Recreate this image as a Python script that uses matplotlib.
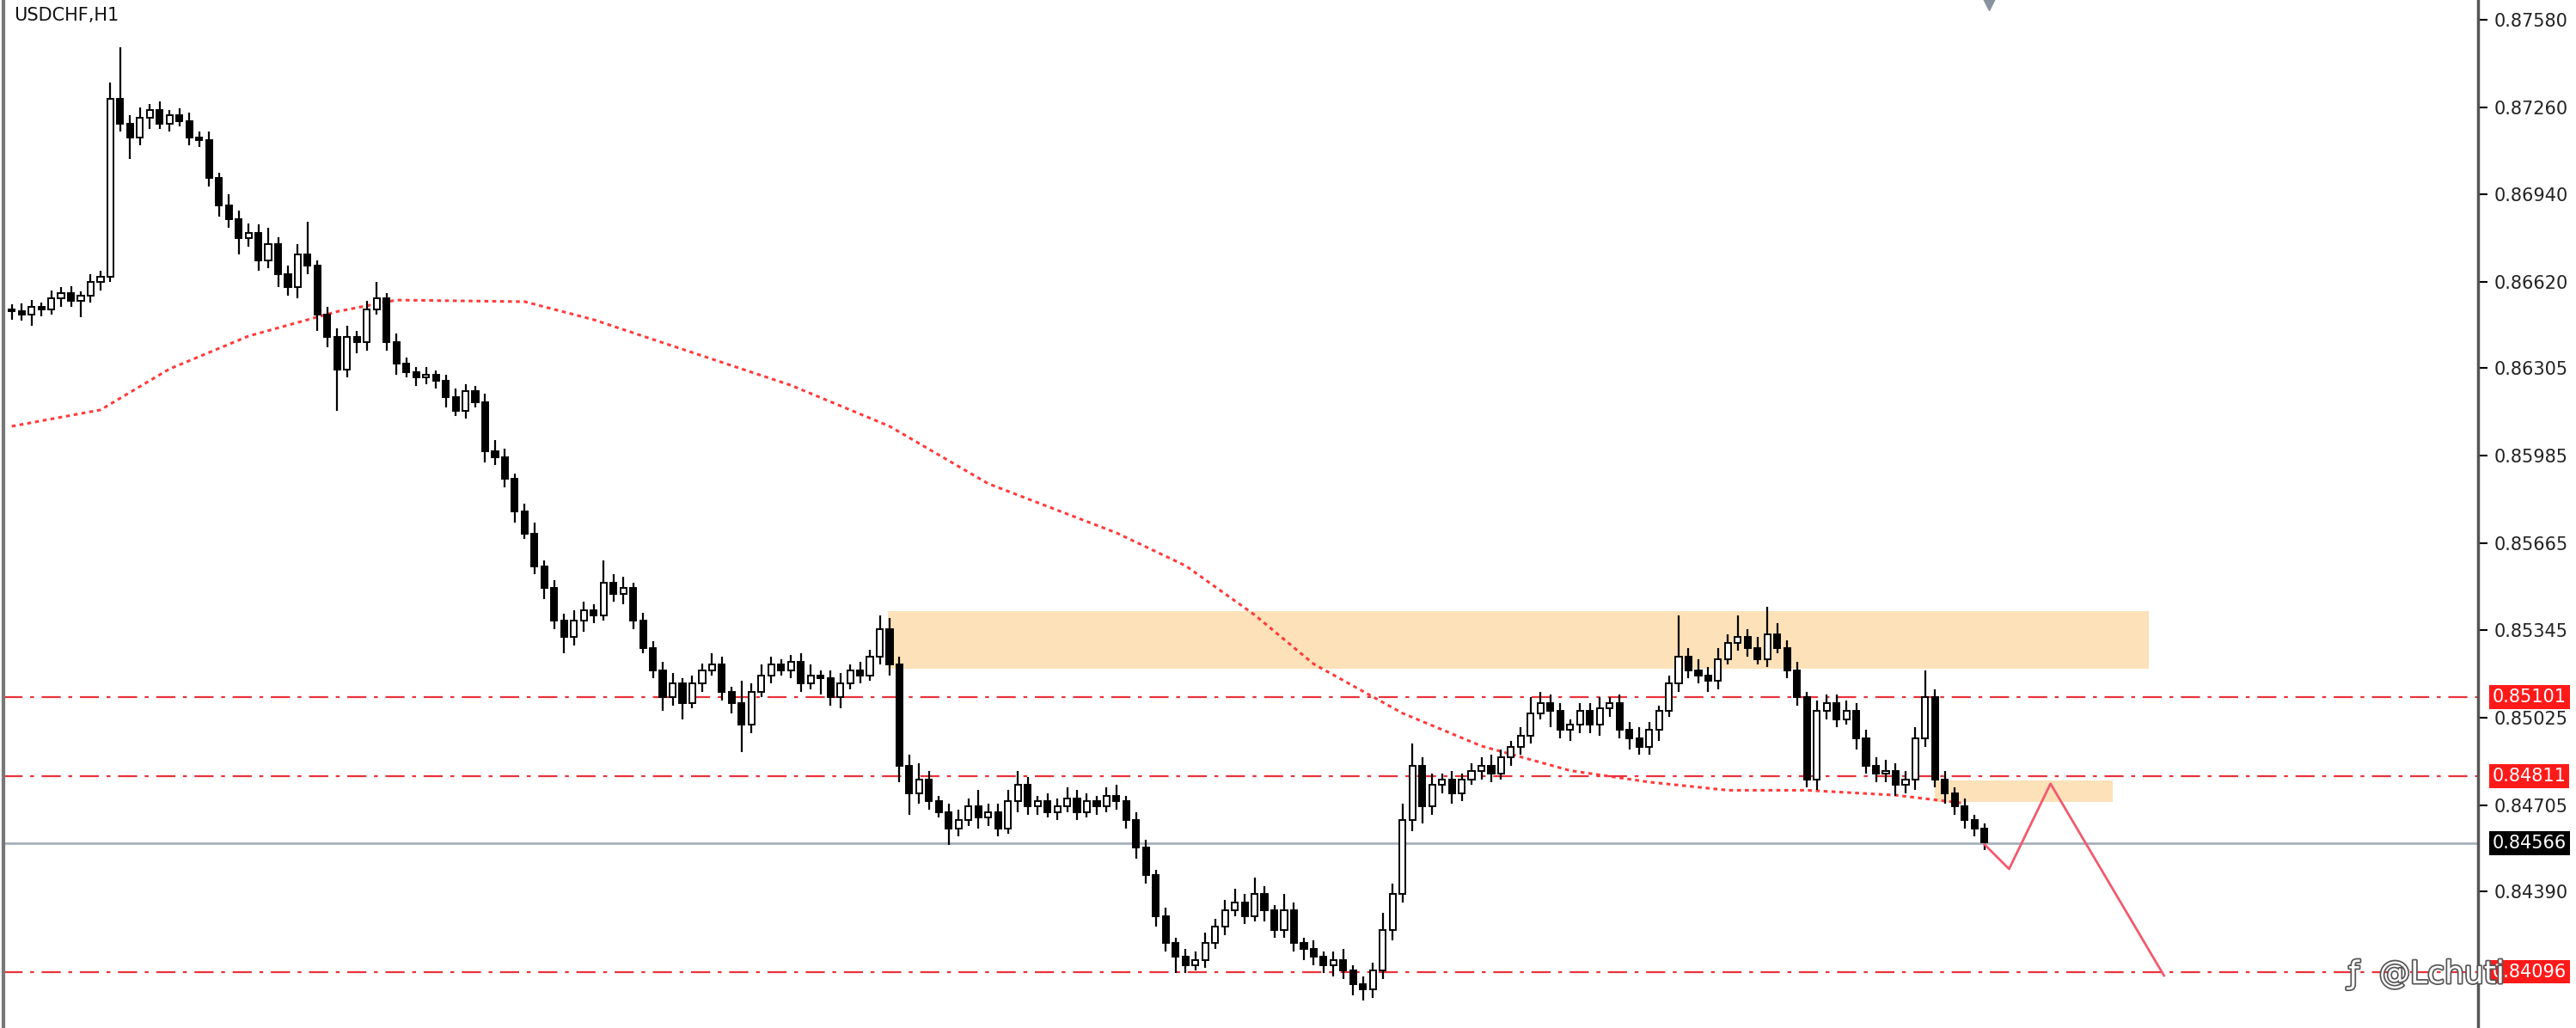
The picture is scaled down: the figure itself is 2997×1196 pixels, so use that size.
import matplotlib
matplotlib.use("Agg")
import matplotlib.pyplot as plt
import matplotlib.patheffects as pe
import numpy as np

closes = [0.86512,0.86500,0.86530,0.86520,0.86560,0.86580,0.86550,0.86570,0.86620,0.86640,
0.87290,0.87200,0.87150,0.87220,0.87250,0.87200,0.87230,0.87210,0.87150,0.87140,
0.87000,0.86900,0.86850,0.86780,0.86800,0.86700,0.86760,0.86650,0.86600,0.86720,
0.86680,0.86500,0.86420,0.86300,0.86420,0.86400,0.86520,0.86560,0.86400,0.86320,
0.86290,0.86270,0.86280,0.86260,0.86200,0.86150,0.86220,0.86180,0.86000,0.85980,
0.85900,0.85780,0.85700,0.85580,0.85500,0.85380,0.85320,0.85380,0.85420,0.85400,
0.85520,0.85480,0.85500,0.85380,0.85280,0.85200,0.85100,0.85150,0.85080,0.85150,
0.85200,0.85220,0.85120,0.85080,0.85000,0.85120,0.85180,0.85220,0.85200,0.85230,
0.85150,0.85180,0.85170,0.85100,0.85150,0.85200,0.85180,0.85250,0.85350,0.85220,
0.84850,0.84750,0.84800,0.84720,0.84680,0.84620,0.84650,0.84700,0.84660,0.84680,
0.84620,0.84720,0.84780,0.84700,0.84720,0.84680,0.84700,0.84730,0.84680,0.84720,
0.84700,0.84740,0.84720,0.84650,0.84550,0.84450,0.84300,0.84200,0.84150,0.84120,
0.84140,0.84200,0.84260,0.84320,0.84350,0.84300,0.84380,0.84320,0.84250,0.84320,
0.84200,0.84180,0.84150,0.84120,0.84140,0.84100,0.84050,0.84030,0.84100,0.84250,
0.84380,0.84650,0.84850,0.84700,0.84780,0.84800,0.84750,0.84800,0.84830,0.84850,
0.84820,0.84880,0.84920,0.84960,0.85040,0.85080,0.85050,0.84980,0.85000,0.85050,
0.85000,0.85060,0.85080,0.84980,0.84950,0.84920,0.84980,0.85050,0.85150,0.85250,
0.85200,0.85180,0.85160,0.85240,0.85300,0.85320,0.85280,0.85240,0.85330,0.85280,
0.85200,0.85100,0.84800,0.85050,0.85080,0.85020,0.85050,0.84950,0.84850,0.84820,
0.84830,0.84780,0.84800,0.84950,0.85100,0.84800,0.84750,0.84700,0.84650,0.84620,
0.84570]
first_open = 0.86520

# wick extensions beyond the body, in units of 0.00001
upper_wick = [20,30,25,15,30,20,25,15,30,20, 60,190,30,40,20,30,20,25,30,20,
30,20,40,30,35,30,60,25,30,40, 120,20,30,30,40,20,30,60,20,30,
25,20,30,15,20,30,25,20,30,40, 30,20,30,40,20,30,25,40,30,20,
80,30,40,20,30,25,30,40,20,30, 25,40,30,20,80,30,40,30,20,25,
30,40,20,30,40,20,30,25,50,40, 30,40,60,30,20,30,40,30,60,30,
30,40,50,30,20,30,30,40,30,30, 20,30,40,20,30,30,20,30,20,30,
30,40,30,40,50,30,60,30,20,60, 30,20,30,20,30,40,20,30,30,60,
40,60,80,30,40,20,30,20,30,30, 40,30,20,30,60,40,30,30,20,30,
30,40,20,30,30,40,30,20,30,150, 30,40,30,40,30,80,30,40,100,40,
30,30,20,40,30,30,40,30,30,30, 40,30,30,40,100,30,30,20,30,20,20]
lower_wick = [30,20,40,25,20,30,20,60,25,30, 20,30,80,30,40,20,30,20,30,25,
30,40,30,60,30,40,30,50,30,40, 30,60,40,150,30,40,30,20,30,40,
20,30,25,30,40,20,30,20,40,30, 30,40,20,30,40,30,60,30,40,30,
20,30,40,30,20,30,50,30,60,20, 30,20,30,40,100,30,20,30,20,30,
30,20,60,30,40,20,30,20,30,40, 60,80,40,30,20,60,30,20,40,30,
30,20,40,30,30,20,30,20,30,20, 30,20,30,30,40,30,40,30,60,30,
20,30,20,30,20,30,20,40,30,30, 30,40,30,30,40,30,40,40,30,30,
40,30,40,60,30,30,40,30,20,30, 30,20,30,30,30,20,60,30,40,30,
30,40,30,30,40,30,30,40,20,30, 30,30,40,30,20,30,30,20,30,20,
30,30,30,40,30,30,20,40,30,30, 30,40,30,40,30,30,40,30,30,30,30]

ma_idx = [0,9,16,24,33,39,52,59,69,79,89,99,112,119,126,132,141,149,158,166,174,182,191,198]
ma_val = [0.86092,0.86152,0.86302,0.86422,0.86512,0.86554,0.86548,0.86482,0.86362,0.86242,
          0.86092,0.85882,0.85702,0.85582,0.85402,0.85222,0.85042,0.84922,0.84832,0.84790,
          0.84760,0.84760,0.84742,0.84712]

levels = [0.85101, 0.84811, 0.84096]
last_price = 0.84566
zone_top = (88.8, 216.7, 0.85204, 0.85414)
zone_small = (195.0, 213.0, 0.84718, 0.84796)
proj_idx = [200, 202.5, 206.7, 218.2]
proj_val = [0.84562, 0.84472, 0.84784, 0.84082]
ticks = [0.87580,0.87260,0.86940,0.86620,0.86305,0.85985,0.85665,0.85345,0.85025,0.84705,0.84390]

fig = plt.figure(figsize=(29.97, 11.96), dpi=100)
ax = fig.add_axes([0.0015, 0.0, 0.9603, 1.0])
ymin, ymax = 0.83890, 0.87652
ax.set_ylim(ymin, ymax)
ax.set_xlim(-0.8, 250.0)

n = len(closes)
opens = [first_open] + closes[:-1]
for i in range(n):
    o, c = opens[i], closes[i]
    top, bot = max(o, c), min(o, c)
    hi = top + upper_wick[i] * 1e-5
    lo = bot - lower_wick[i] * 1e-5
    ax.vlines(i, lo, hi, color="black", lw=1.6, zorder=3)
    h = max(top - bot, 0.00002)
    ax.bar(i, h, bottom=bot, width=0.62,
           color=("white" if c > o else "black"), edgecolor="black", lw=1.4, zorder=4)

ax.plot(ma_idx, ma_val, color="#ff3b3b", lw=2.2, ls=(0, (1.5, 1.5)), zorder=2)

for x0, x1, y0, y1 in (zone_top, zone_small):
    ax.fill_between([x0, x1], y0, y1, color="#fde1b8", zorder=1, lw=0)

for lv in levels:
    ax.axhline(lv, color="#e8323a", lw=1.6, ls=(0, (10, 4, 2, 4)), zorder=2)
ax.axhline(last_price, color="#a7b0bd", lw=2.0, zorder=2)
ax.plot(proj_idx, proj_val, color="#f05a6e", lw=2.0, zorder=5)

ax.yaxis.tick_right()
ax.set_yticks(ticks)
ax.set_yticklabels([f"{t:.5f}" for t in ticks], fontsize=15, color="#222222")
ax.tick_params(axis="y", length=8, width=1.5, pad=6)
ax.set_xticks([])
for s in ("top", "bottom"):
    ax.spines[s].set_visible(False)
ax.spines["right"].set_linewidth(2.5)
ax.spines["right"].set_color("#555555")
ax.spines["left"].set_linewidth(3)
ax.spines["left"].set_color("#777777")

for lv, bg, fg in [(levels[0], "#ff1a1a", "white"), (levels[1], "#ff1a1a", "white"),
                   (last_price, "black", "white"), (levels[2], "#ff1a1a", "white")]:
    ax.text(1.006, lv, f"{lv:.5f}", transform=ax.get_yaxis_transform(), fontsize=15,
            color=fg, va="center", ha="left", zorder=10,
            bbox=dict(boxstyle="square,pad=0.18", fc=bg, ec="none"))

ax.text(0.004, 0.993, "USDCHF,H1", transform=ax.transAxes, fontsize=15, va="top", ha="left",
        color="#111111")
ax.plot([200.5], [0.87652 - 0.00012], marker="v", color="#8a93a0", ms=12, clip_on=False)

fig.text(0.942, 0.052, "ƒ  @Lchuti", fontsize=26, color="white", ha="center", va="center",
         path_effects=[pe.withStroke(linewidth=2.5, foreground="#555555")], zorder=20)

fig.savefig("out.png", dpi=100, facecolor="white")
